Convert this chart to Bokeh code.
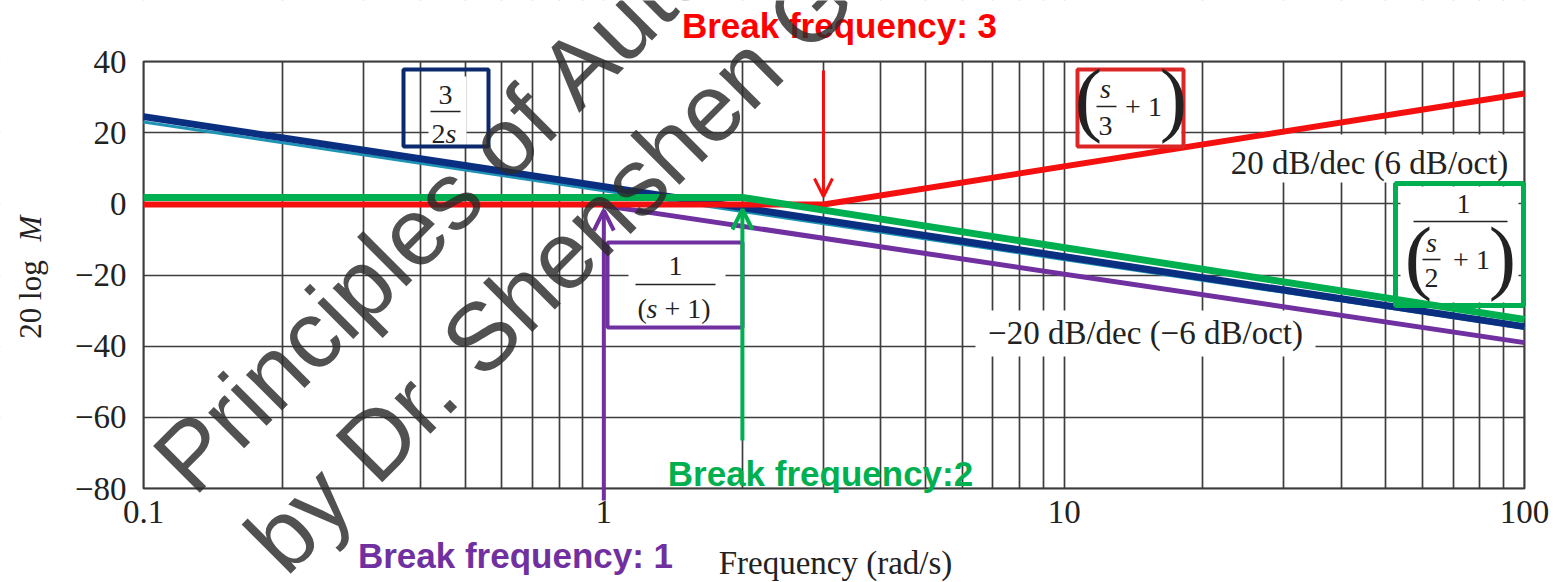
import math

from bokeh.embed import file_html
from bokeh.models import Arrow, BoxAnnotation, FixedTicker, Label, OpenHead, Range1d
from bokeh.plotting import figure
from bokeh.resources import INLINE

# ---- data -----------------------------------------------------------------
# break frequencies (rad/s) of the three first-order factors
break_freqs = [1, 2, 3]

# straight-line asymptotes, magnitude in dB
integrator_freq = [0.1, 100]          # 3/(2s)
integrator_db = [24.5, -34.5]
printed_freq = [0.1, 100]             # thin printed -20 dB/dec line
printed_db = [23.0, -35.0]
pole1_freq = [break_freqs[0], 100]    # 1/(s+1)
pole1_db = [-0.5, -39.0]
pole2_freq = [0.1, break_freqs[1], 100]   # 1/(s/2+1)
pole2_db = [1.8, 1.8, -32.5]
zero3_freq = [0.1, break_freqs[2], 100]   # (s/3+1)
zero3_db = [-0.2, -0.2, 31.0]

x_ticks = [0.1, 1, 10, 100]
x_tick_labels = ["0.1", "1", "10", "100"]
x_minor_ticks = [k * d for d in (0.1, 1, 10) for k in range(2, 10)]
y_ticks = [-80, -60, -40, -20, 0, 20, 40]
y_tick_labels = ["−80", "−60", "−40", "−20", "0", "20", "40"]

# ---- styling ----------------------------------------------------------------
NAVY = "#0a2f80"
NAVY_BOX = "#0b2a6e"
TEAL = "#1f93b5"
RED = "#f51010"
RED_BOX = "#dc2626"
GREEN = "#00b050"
PURPLE = "#7030a0"
GRID = "#3d3d3d"
INK = "#222222"
SERIF = "Liberation Serif"
SANS = "Liberation Sans"

W, H = 1553, 582
FL, FR, FT, FB = 143, 1524, 61, 488   # edges of the gridded area on the canvas
X0, X1, Y0, Y1 = 0.1, 100.0, -80.0, 40.0

# the frame fills the whole canvas so that captions can sit outside the grid
DEC_PX = (FR - FL) / (math.log10(X1) - math.log10(X0))
DB_PX = (Y1 - Y0) / (FB - FT)
x_lo = 10 ** (math.log10(X0) - FL / DEC_PX)
x_hi = 10 ** (math.log10(X1) + (W - FR) / DEC_PX)
y_hi = Y1 + FT * DB_PX
y_lo = Y0 - (H - FB) * DB_PX


def fx(px):
    """canvas x pixel -> frequency"""
    return 10 ** (math.log10(X0) + (px - FL) / DEC_PX)


def fy(py):
    """canvas y pixel -> dB"""
    return Y1 - (py - FT) * DB_PX


p = figure(
    width=W, height=H,
    x_axis_type="log",
    x_range=Range1d(x_lo, x_hi), y_range=Range1d(y_lo, y_hi),
    output_backend="svg", toolbar_location=None,
    min_border_left=0, min_border_right=0,
    min_border_top=0, min_border_bottom=0,
    title=None,
)
p.background_fill_color = "white"
p.border_fill_color = "white"
p.outline_line_color = None

# axes sit on the edges of the gridded area
for ax in (p.xaxis[0], p.yaxis[0]):
    ax.axis_line_color = None
    ax.major_tick_line_color = None
    ax.minor_tick_line_color = None
    ax.major_tick_in = 0
    ax.major_tick_out = 0
    ax.minor_tick_in = 0
    ax.minor_tick_out = 0
    ax.major_label_text_font = SERIF
    ax.major_label_text_font_size = "33px"
    ax.major_label_text_color = INK

p.xaxis.ticker = FixedTicker(ticks=x_ticks, minor_ticks=x_minor_ticks)
p.xaxis.major_label_overrides = {t: s for t, s in zip(x_ticks, x_tick_labels)}
p.xaxis.major_label_standoff = 12
p.xaxis.fixed_location = Y0
p.yaxis.ticker = FixedTicker(ticks=y_ticks)
p.yaxis.major_label_overrides = {t: s for t, s in zip(y_ticks, y_tick_labels)}
p.yaxis.major_label_standoff = 17
p.yaxis.fixed_location = X0

for g in (p.xgrid[0], p.ygrid[0]):
    g.grid_line_color = GRID
    g.grid_line_width = 1.7
p.xgrid.minor_grid_line_color = GRID
p.xgrid.minor_grid_line_width = 1.7

# white margins trim the grid to the plotting rectangle
far_l, far_r, far_t, far_b = x_lo / 10, x_hi * 10, y_hi + 50, y_lo - 50
p.quad(left=[far_l, far_l, far_l, X1], right=[far_r, far_r, X0, far_r],
       top=[far_t, Y0, far_t, far_t], bottom=[Y1, far_b, far_b, far_b],
       fill_color="white", line_color=None)
p.add_layout(BoxAnnotation(left=far_l, right=fx(6), fill_color="white",
                           fill_alpha=1, line_color=None))


def blank(x0, x1, y0, y1):
    """white patch that hides the grid behind a text block"""
    p.quad(left=[fx(x0)], right=[fx(x1)], top=[fy(y0)], bottom=[fy(y1)],
           fill_color="white", line_color=None)


blank(1215, 1518, 134, 182)
blank(975, 1315, 310, 356)
blank(428, 466, 76, 146)
blank(1079, 1181, 71, 144)
blank(1400, 1518, 186, 302)
blank(628, 725, 245, 325)

# frame of the plotting rectangle
p.quad(left=[X0], right=[X1], top=[Y1], bottom=[Y0], fill_alpha=0,
       line_color=GRID, line_width=2)

# asymptotes
p.line(printed_freq, printed_db, line_color=TEAL, line_width=3)
p.line(integrator_freq, integrator_db, line_color=NAVY, line_width=7)
p.line(pole1_freq, pole1_db, line_color=PURPLE, line_width=5)
p.line(zero3_freq, zero3_db, line_color=RED, line_width=6)
p.line(pole2_freq, pole2_db, line_color=GREEN, line_width=7)


def frame_box(x0, x1, y0, y1, color, width):
    p.quad(left=[fx(x0)], right=[fx(x1)], top=[fy(y0)], bottom=[fy(y1)],
           fill_alpha=0, line_color=color, line_width=width)


frame_box(403, 488, 69, 146, NAVY_BOX, 4)
frame_box(1077, 1183, 69, 146, RED_BOX, 4)
frame_box(1395, 1523, 183, 305, GREEN, 5)
frame_box(607, 742, 242, 327, PURPLE, 4)


def bar(x0, x1, y):
    p.segment(x0=[fx(x0)], x1=[fx(x1)], y0=[fy(y)], y1=[fy(y)],
              line_color=INK, line_width=1.6)


def txt(px, py, s, size, color=INK, font=SERIF, style="normal",
        align="center", angle=0, alpha=1.0):
    p.add_layout(Label(x=fx(px), y=fy(py), text=s, text_font=font,
                       text_font_size=f"{size}px", text_color=color,
                       text_font_style=style, text_align=align,
                       text_baseline="middle", angle=angle,
                       angle_units="deg", text_alpha=alpha))


# break-frequency arrows
def arrow(freq, y_from, y_to, color, width, head):
    p.add_layout(Arrow(end=OpenHead(size=head, line_color=color, line_width=width),
                       x_start=freq, y_start=fy(y_from), x_end=freq, y_end=fy(y_to),
                       line_color=color, line_width=width))


arrow(break_freqs[2], 70, 196, RED, 3, 18)
arrow(break_freqs[1], 440, 209, GREEN, 4, 20)
arrow(break_freqs[0], 500, 210, PURPLE, 4, 20)

# 3/(2s)
txt(445, 94, "3", 28)
bar(430, 460, 111)
txt(445, 133, "2", 28, align="right")
txt(445, 133, "s", 28, style="italic", align="left")

# 1/(s+1)
txt(675, 265, "1", 28)
bar(635, 715, 284)
txt(637, 308, "(", 28, align="left")
txt(646, 308, "s", 28, style="italic", align="left")
txt(664, 308, "+ 1)", 28, align="left")

# (s/3 + 1)
txt(1088, 98, "(", 82)
txt(1173, 98, ")", 82)
txt(1105, 88, "s", 28, style="italic")
bar(1096, 1116, 106)
txt(1105, 125, "3", 28)
txt(1143, 106, "+ 1", 28)

# 1/(s/2 + 1)
txt(1463, 203, "1", 28)
bar(1413, 1507, 221)
txt(1418, 256, "(", 82)
txt(1502, 256, ")", 82)
txt(1431, 242, "s", 28, style="italic")
bar(1422, 1440, 259)
txt(1431, 277, "2", 28)
txt(1471, 259, "+ 1", 28)

# slope notes
txt(1369, 162, "20 dB/dec (6 dB/oct)", 33)
txt(1145, 332, "−20 dB/dec (−6 dB/oct)", 33)

# break-frequency captions
txt(839, 25, "Break frequency: 3", 35, color="#ff0000", font=SANS, style="bold")
txt(820, 473, "Break frequency:2", 35, color=GREEN, font=SANS, style="bold")
txt(515, 555, "Break frequency: 1", 35, color=PURPLE, font=SANS, style="bold")

# axis titles
txt(835, 562, "Frequency (rad/s)", 33)
txt(30, 299, "20 log", 31, angle=90)
txt(30, 228, "M", 31, style="italic", angle=90)

# watermark
txt(170, 474, "Principles of Automatic Control", 96, color="#2b2b2b", font=SANS,
    align="left", angle=45, alpha=0.82)
txt(262, 554, "by Dr. Shenshen Gu", 96, color="#2b2b2b", font=SANS,
    align="left", angle=45, alpha=0.82)

open("out.html", "w").write(file_html(p, INLINE))
